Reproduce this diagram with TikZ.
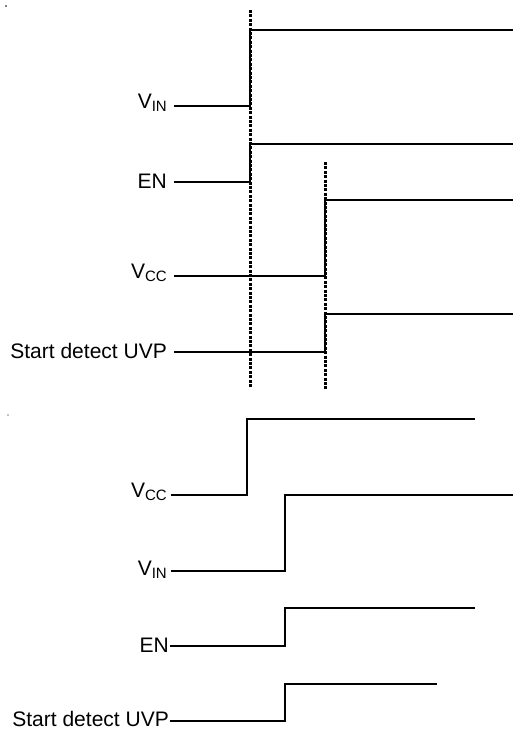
\documentclass[tikz,border=0pt]{standalone}
\usepackage{fontspec}
\setmainfont{Liberation Sans}
\newcommand\lowsub[1]{\raisebox{-3pt}{\fontsize{15}{17}\selectfont #1}}
\begin{document}
\begin{tikzpicture}[x=1pt,y=-1pt,
  lbl/.style={font=\fontsize{21}{24}\selectfont, inner sep=0pt, anchor=base east},
  wave/.style={line width=1.6pt, line join=miter},
  guide/.style={line width=3pt, dash pattern=on 3pt off 1.4pt}]
\useasboundingbox (0,0) rectangle (513,729);
% tiny specks
\fill (6,6) circle (0.8);
\fill (8,415) circle (0.6);
% ---------- top diagram ----------
\node[lbl] (tvin) at (167,108) {V\lowsub{IN}};
\node[lbl] (ten) at (167,188.5) {EN};
\node[lbl] (tvcc) at (167,278) {V\lowsub{CC}};
\node[lbl] (tuvp) at (167,358) {Start detect UVP};
\draw[wave] (174,106) -- (250,106) -- (250,30) -- (514,30);
\draw[wave] (174,182) -- (250,182) -- (250,144) -- (514,144);
\draw[wave] (174,276) -- (325,276) -- (325,200) -- (514,200);
\draw[wave] (174,352) -- (325,352) -- (325,314) -- (514,314);
\draw[guide] (250,10) -- (250,388);
\draw[guide] (325,162) -- (325,390);
% ---------- bottom diagram ----------
\node[lbl] (bvcc) at (167,497) {V\lowsub{CC}};
\node[lbl] (bvin) at (167,575) {V\lowsub{IN}};
\node[lbl] (ben) at (169,652.5) {EN};
\node[lbl] (buvp) at (169,726) {Start detect UVP};
\draw[wave] (171,495) -- (247,495) -- (247,419) -- (475,419);
\draw[wave] (171,571) -- (285,571) -- (285,495) -- (514,495);
\draw[wave] (170,646) -- (285,646) -- (285,608) -- (475,608);
\draw[wave] (170,721) -- (285,721) -- (285,684) -- (437,684);
\end{tikzpicture}
\end{document}
